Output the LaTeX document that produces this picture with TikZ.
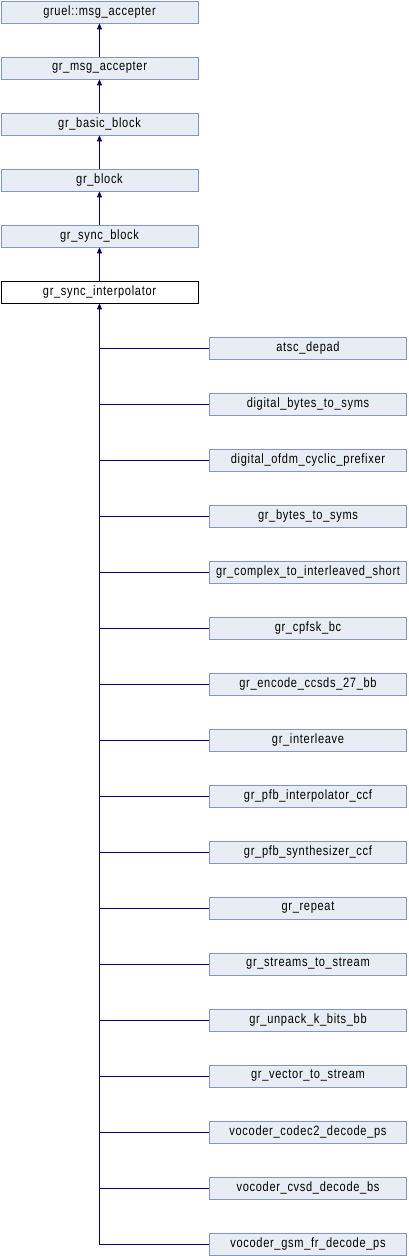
\documentclass[tikz,border=0pt]{standalone}
\usepackage{fontspec}
\setmainfont{Liberation Sans}[LetterSpace=5, FakeStretch=0.82]
\usetikzlibrary{arrows.meta}
\definecolor{boxfill}{HTML}{E8ECF4}
\definecolor{boxline}{HTML}{8098C8}
\definecolor{edgeblue}{HTML}{000080}
\begin{document}
\begin{tikzpicture}[x=1pt, y=-1pt,
        cls/.style={rectangle, draw=boxline, fill=boxfill, line width=0.8pt, minimum width=197pt, minimum height=22pt, inner sep=0pt, font=\fontsize{13.5}{15}\selectfont},
        this/.style={cls, draw=black, fill=white},
        inherit/.style={-{Triangle[length=6pt, width=5pt]}, edgeblue, line width=0.8pt}]
    \useasboundingbox (0, 0) rectangle (408, 1256);
    % base classes
    \node[cls] (gruel) at (99.5, 12) {gruel::msg\_accepter};
    \node[cls] (msgacc) at (99.5, 68) {gr\_msg\_accepter};
    \node[cls] (basic) at (99.5, 124) {gr\_basic\_block};
    \node[cls] (block) at (99.5, 180) {gr\_block};
    \node[cls] (sync) at (99.5, 236) {gr\_sync\_block};
    \node[this] (interp) at (99.5, 292) {gr\_sync\_interpolator};
    \draw[inherit] (msgacc) -- (gruel);
    \draw[inherit] (basic) -- (msgacc);
    \draw[inherit] (block) -- (basic);
    \draw[inherit] (sync) -- (block);
    \draw[inherit] (interp) -- (sync);
    % derived classes
    \node[cls] (c1) at (308, 348) {atsc\_depad};
    \node[cls] (c2) at (308, 404) {digital\_bytes\_to\_syms};
    \node[cls] (c3) at (308, 460) {digital\_ofdm\_cyclic\_prefixer};
    \node[cls] (c4) at (308, 516) {gr\_bytes\_to\_syms};
    \node[cls] (c5) at (308, 572) {gr\_complex\_to\_interleaved\_short};
    \node[cls] (c6) at (308, 628) {gr\_cpfsk\_bc};
    \node[cls] (c7) at (308, 684) {gr\_encode\_ccsds\_27\_bb};
    \node[cls] (c8) at (308, 740) {gr\_interleave};
    \node[cls] (c9) at (308, 796) {gr\_pfb\_interpolator\_ccf};
    \node[cls] (c10) at (308, 852) {gr\_pfb\_synthesizer\_ccf};
    \node[cls] (c11) at (308, 908) {gr\_repeat};
    \node[cls] (c12) at (308, 964) {gr\_streams\_to\_stream};
    \node[cls] (c13) at (308, 1020) {gr\_unpack\_k\_bits\_bb};
    \node[cls] (c14) at (308, 1076) {gr\_vector\_to\_stream};
    \node[cls] (c15) at (308, 1132) {vocoder\_codec2\_decode\_ps};
    \node[cls] (c16) at (308, 1188) {vocoder\_cvsd\_decode\_bs};
    \node[cls] (c17) at (308, 1244) {vocoder\_gsm\_fr\_decode\_ps};
    \draw[inherit] (c17.west) -| (interp.south);
    \foreach \i in {1,...,16}
        \draw[edgeblue, line width=0.8pt] (c\i.west) -- (c\i.west -| interp.south);
\end{tikzpicture}
\end{document}
